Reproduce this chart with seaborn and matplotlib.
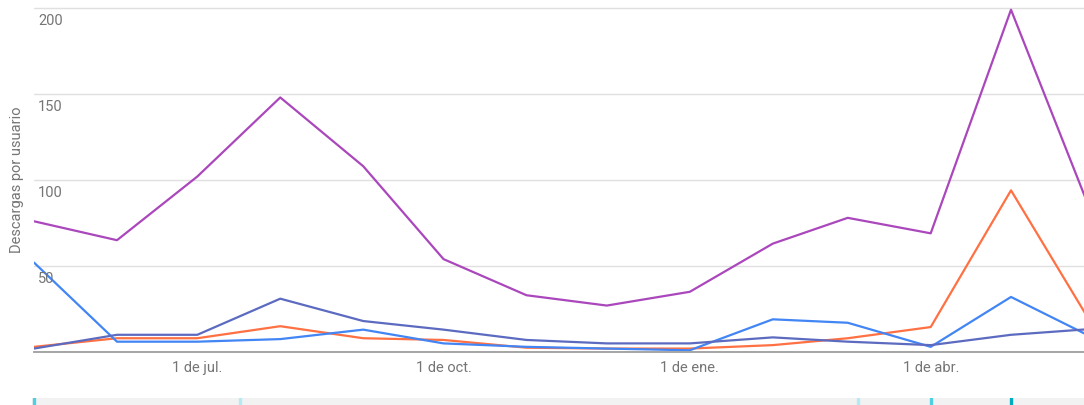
import matplotlib
matplotlib.use("Agg")
import matplotlib.pyplot as plt
from matplotlib.transforms import blended_transform_factory, ScaledTranslation
import seaborn as sns
import pandas as pd

# ---- data ----
meses = pd.date_range("2022-05-01", "2023-06-01", freq="MS")
serie_morada = [76, 65, 102, 148, 108, 54, 33, 27, 35, 63, 78, 69, 199, 77]
serie_naranja = [3, 8, 8, 15, 8, 7, 2.5, 2, 2, 4, 8, 14.5, 94, 14]
serie_azul = [52, 6, 6, 7.5, 13, 5, 3, 2, 1, 19, 17, 3, 32, 8]
serie_indigo = [2, 10, 10, 31, 18, 13, 7, 5, 5, 8.5, 6, 4, 10, 13.5]
nombres = ["Serie 1", "Serie 2", "Serie 3", "Serie 4"]
colores = ["#AB47BC", "#FF7043", "#4285F4", "#5C6BC0"]
y_ticks = [50, 100, 150, 200]
x_ticks = ["2022-07-01", "2022-10-01", "2023-01-01", "2023-04-01"]
x_labels = ["1 de jul.", "1 de oct.", "1 de ene.", "1 de abr."]
marcas_fechas = ["2022-05-01", "2022-07-17", "2023-03-05", "2023-04-01", "2023-05-01"]
marcas_colores = ["#4DD0E1", "#B2EBF2", "#B2EBF2", "#4DD0E1", "#00ACC1"]

df = pd.DataFrame({
    "fecha": list(meses) * 4,
    "valor": serie_morada + serie_naranja + serie_azul + serie_indigo,
    "serie": [n for n in nombres for _ in range(len(meses))],
})

sns.set_theme(style="white")
plt.rcParams["font.family"] = ["Roboto", "DejaVu Sans"]

FS = 10.5
W, H = 1084, 405
fig = plt.figure(figsize=(W / 100, H / 100), dpi=100)
ax = fig.add_axes([34 / W, 53 / H, 1050 / W, 352 / H])

sns.lineplot(data=df, x="fecha", y="valor", hue="serie", hue_order=nombres,
             palette=colores, linewidth=1.6, ax=ax, legend=False)

px_per_day = 977 / 365
x0 = pd.Timestamp("2022-05-01")
x1 = x0 + pd.Timedelta(days=1050 / px_per_day)
ax.set_xlim(x0, x1)
ax.set_ylim(0, 352 / 1.72)

ax.set_yticks([0] + y_ticks)
ax.set_yticklabels([])
ax.grid(axis="y", color="#e0e0e0", linewidth=1)
ax.grid(axis="x", visible=False)
ax.tick_params(axis="y", length=0)
trans = blended_transform_factory(ax.transAxes, ax.transData) + \
    ScaledTranslation(4 / 100, -6 / 100, fig.dpi_scale_trans)
for v in y_ticks:
    ax.text(0, v, str(v), transform=trans, ha="left", va="top",
            fontsize=FS, color="#757575")

ax.set_xticks(pd.to_datetime(x_ticks))
ax.set_xticklabels(x_labels, fontsize=FS, color="#757575")
ax.tick_params(axis="x", length=0, pad=6.5)

for s in ["top", "right", "left"]:
    ax.spines[s].set_visible(False)
ax.spines["bottom"].set_color("#9e9e9e")
ax.spines["bottom"].set_linewidth(1.3)

ax.set_xlabel("")
ax.set_ylabel("Descargas por usuario", fontsize=FS, color="#757575")
ax.yaxis.set_label_coords(-10 / 1050, 0.49)

# bottom range strip
ax2 = fig.add_axes([32 / W, 0, (W - 32) / W, 7 / H])
ax2.set_facecolor("#f2f2f2")
ax2.set_xlim(x0 - pd.Timedelta(days=2 / px_per_day), x1)
ax2.set_ylim(0, 1)
for d, c in zip(marcas_fechas, marcas_colores):
    ax2.axvline(pd.Timestamp(d), color=c, linewidth=2.4)
ax2.set_xticks([])
ax2.set_yticks([])
for s in ax2.spines.values():
    s.set_visible(False)

fig.savefig("out.png", dpi=100)
